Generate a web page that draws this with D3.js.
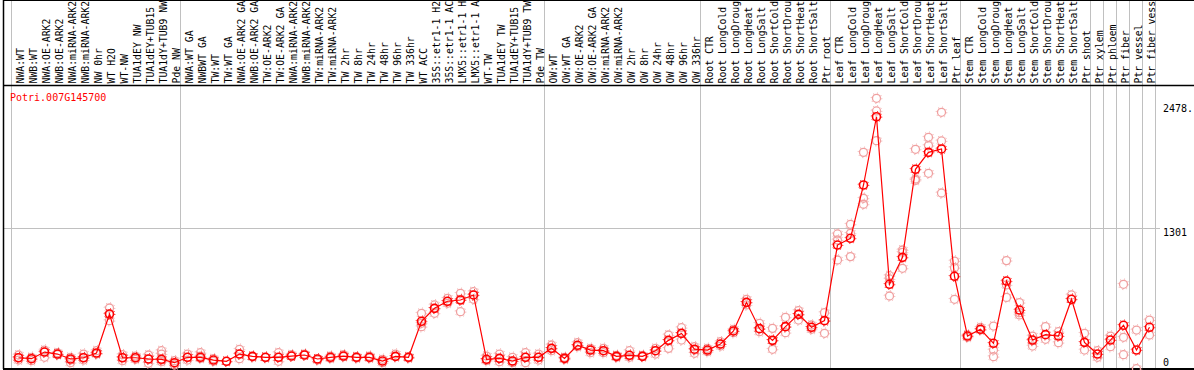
<!DOCTYPE html>
<html>
<head>
<meta charset="utf-8">
<script src="https://cdn.jsdelivr.net/npm/d3@7"></script>
<style>
  body { margin: 0; background: #fff; }
  svg { display: block; }
  text { font-family: "DejaVu Sans Mono", monospace; font-size: 10px; }
</style>
</head>
<body>
<div id="chart"></div>
<script>
const geneName = "Potri.007G145700";

// sample labels as printed in the header (cut to 14 characters there)
const samples = [
  "NWA:WT", "NWB:WT", "NWA:OE-ARK2", "NWB:OE-ARK2", "NWA:miRNA-ARK2", "NWB:miRNA-ARK2",
  "NW 0hr", "WT H2O", "WT-NW", "TUA1dEY NW", "TUA1dEY+TUB15", "TUA1dY+TUB9 NW", "Pde NW",
  "NWA:WT GA", "NWBWT GA", "TW:WT", "TW:WT GA", "NWA:OE-ARK2 GA", "NWB:OE-ARK2 GA",
  "TW:OE-ARK2", "TW:OE-ARK2 GA", "NWA:miRNA-ARK2", "NWB:miRNA-ARK2", "TW:miRNA-ARK2",
  "TW:miRNA-ARK2", "TW 2hr", "TW 8hr", "TW 24hr", "TW 48hr", "TW 96hr", "TW 336hr", "WT ACC",
  "35S::etr1-1 H2", "35S::etr1-1 AC", "LMX5::etr1-1 H", "LMX5::etr1-1 A", "WT-TW",
  "TUA1dEY TW", "TUA1dEY+TUB15", "TUA1dY+TUB9 TW", "Pde TW",
  "OW:WT", "OW:WT GA", "OW:OE-ARK2", "OW:OE-ARK2 GA", "OW:miRNA-ARK2", "OW:miRNA-ARK2",
  "OW 2hr", "OW 8hr", "OW 24hr", "OW 48hr", "OW 96hr", "OW 336hr",
  "Root CTR", "Root LongCold", "Root LongDroug", "Root LongHeat", "Root LongSalt",
  "Root ShortCold", "Root ShortDrou", "Root ShortHeat", "Root ShortSalt", "Ptr root",
  "Leaf CTR", "Leaf LongCold", "Leaf LongDroug", "Leaf LongHeat", "Leaf LongSalt",
  "Leaf ShortCold", "Leaf ShortDrou", "Leaf ShortHeat", "Leaf ShortSalt", "Ptr leaf",
  "Stem CTR", "Stem LongCold", "Stem LongDroug", "Stem LongHeat", "Stem LongSalt",
  "Stem ShortCold", "Stem ShortDrou", "Stem ShortHeat", "Stem ShortSalt", "Ptr shoot",
  "Ptr xylem", "Ptr phloem", "Ptr fiber", "Ptr vessel", "Ptr fiber vess"
];

const means = [
  69, 60, 123, 104, 57, 69, 114, 484, 69, 69, 57, 54, 22,
  73, 73, 47, 35, 104, 82, 73, 73, 85, 95, 57, 73, 85, 73, 73, 38, 82, 73,
  415, 538, 605, 617, 665, 54, 63, 38, 73, 73,
  158, 63, 187, 142, 136, 82, 92, 82, 136, 234, 300, 150,
  142, 199, 323, 595, 345, 234, 364, 481, 358, 421,
  1139, 1203, 1709, 2357, 766, 1022, 1858, 2019, 2051, 842,
  275, 339, 206, 797, 522, 237, 288, 275, 624, 215,
  104, 237, 377, 142, 358
];

const replicates = [
  [95, 70, 47], [73, 41, 60], [142, 123, 73], [117, 104, 98], [73, 47, 22],
  [104, 73, 47], [136, 104, 111], [541, 484, 421], [98, 73, 41], [85, 73, 54],
  [95, 57, 16], [136, 104, 47, 32], [41, 16, 0],
  [104, 73, 47], [117, 85, 63], [60, 35], [35], [149, 104, 60], [82, 76], [73, 70],
  [117, 73, 35], [98, 85], [104, 95], [57, 47], [85, 63], [98, 79], [79, 66],
  [85, 66], [54, 22], [104, 79], [79, 66], [491, 396, 364], [570, 538, 491],
  [633, 605, 586], [680, 624, 506], [696, 665, 624], [85, 54, 41], [104, 63, 32],
  [73, 38, 22], [117, 73, 22], [104, 73, 47],
  [190, 158, 136], [73, 54], [212, 187, 174], [158, 142, 117], [158, 136, 117],
  [92, 82, 73], [136, 92, 73], [92, 82], [158, 136, 104], [285, 234, 158],
  [354, 300, 237], [174, 142, 111],
  [158, 142, 127], [221, 199, 180], [339, 323, 307], [623, 595, 570], [396, 345, 316],
  [348, 234, 149], [453, 364, 307], [516, 481, 427], [380, 358, 339], [497, 421, 301],
  [1244, 1187, 997], [1336, 1250, 1029], [2019, 1583, 1526], [2532, 2412, 2130],
  [848, 817, 655], [1092, 1070, 918], [2048, 1766, 1753], [2162, 2083, 1820],
  [2399, 2127, 1633], [987, 924, 624],
  [285, 263], [358, 332], [370, 142, 79], [991, 760, 642], [592, 497, 475],
  [275, 231, 180], [364, 244], [316, 212], [665, 624], [301, 142],
  [136, 73], [275, 174], [766, 263, 98], [332, -35], [427, 285]
];

// indices where a new sample group starts (gray separators)
const groupStarts = [0, 13, 41, 53, 63, 73, 83, 84, 85, 86, 87, 88];

const yTicks = [0, 1301, 2478];
const yTickLabels = ["0", "1301", "2478."];

const W = 1194, H = 370;
const headerBottom = 85;
const plotBottom = 369;

const svg = d3.select("#chart").append("svg")
  .attr("width", W)
  .attr("height", H);

svg.append("rect").attr("width", W).attr("height", H).attr("fill", "#fff");

const x = d3.scaleBand()
  .domain(d3.range(samples.length))
  .range([11, 11 + 13 * samples.length]);

const y = d3.scaleLinear()
  .domain([0, 2478])
  .range([365, 104]);

const cx = i => x(i) + 7.5;
const edge = d => (d < samples.length ? x(d) : x.range()[1]) + 0.5;

// gray separators
svg.selectAll("line.sep")
  .data(groupStarts)
  .enter().append("line")
  .attr("class", "sep")
  .attr("x1", edge)
  .attr("x2", edge)
  .attr("y1", 0)
  .attr("y2", plotBottom)
  .attr("stroke", "#c0c0c0")
  .attr("stroke-width", 1);

// mid gridline
svg.append("line")
  .attr("x1", 3).attr("x2", 1160)
  .attr("y1", Math.round(y(1301)) + 0.5).attr("y2", Math.round(y(1301)) + 0.5)
  .attr("stroke", "#c0c0c0");

// frame
svg.append("line").attr("x1", 3).attr("x2", W).attr("y1", 0.5).attr("y2", 0.5).attr("stroke", "#000");
svg.append("line").attr("x1", 3).attr("x2", W).attr("y1", headerBottom + 0.5).attr("y2", headerBottom + 0.5).attr("stroke", "#000").attr("stroke-width", 1.5);
svg.append("line").attr("x1", 3).attr("x2", W).attr("y1", plotBottom).attr("y2", plotBottom).attr("stroke", "#000").attr("stroke-width", 2);
svg.append("line").attr("x1", 3.5).attr("x2", 3.5).attr("y1", 0).attr("y2", plotBottom).attr("stroke", "#000").attr("stroke-width", 1.5);

// sample labels
svg.append("g").selectAll("text")
  .data(samples)
  .enter().append("text")
  .attr("transform", (d, i) => `translate(${x(i) + 12.5},83.5) rotate(-90)`)
  .attr("text-anchor", "start")
  .style("font-size", "9.8px")
  .attr("fill", "#000")
  .text(d => d);

// y labels on the right
svg.selectAll("text.ylab")
  .data(yTicks)
  .enter().append("text")
  .attr("class", "ylab")
  .attr("x", 1163)
  .attr("y", d => Math.min(y(d) + 8, 366))
  .attr("fill", "#000")
  .text((d, i) => yTickLabels[i]);

// gene label
svg.append("text")
  .attr("x", 10)
  .attr("y", 101)
  .attr("fill", "#ff0000")
  .text(geneName);

const plot = svg.append("g");

function drawMarker(g, color, sw) {
  g.append("circle").attr("r", 4).attr("fill", "none").attr("stroke", color).attr("stroke-width", sw);
  g.append("circle").attr("r", 5.3).attr("fill", "none").attr("stroke", color)
    .attr("stroke-width", 1).attr("stroke-dasharray", "1 3.16");
}

// replicates
const reps = [];
replicates.forEach((arr, i) => arr.forEach(v => reps.push({ i, v })));
plot.selectAll("g.rep")
  .data(reps)
  .enter().append("g")
  .attr("class", "rep")
  .attr("transform", d => `translate(${cx(d.i)},${y(d.v)})`)
  .each(function () { drawMarker(d3.select(this), "#f0a0a0", 1.3); });

// mean line
plot.append("path")
  .datum(means)
  .attr("fill", "none")
  .attr("stroke", "#ff0000")
  .attr("stroke-width", 1.2)
  .attr("d", d3.line().x((d, i) => cx(i)).y(d => y(d)));

// means
plot.selectAll("g.mean")
  .data(means)
  .enter().append("g")
  .attr("class", "mean")
  .attr("transform", (d, i) => `translate(${cx(i)},${y(d)})`)
  .each(function () { drawMarker(d3.select(this), "#ff0000", 1.6); });
</script>
</body>
</html>
